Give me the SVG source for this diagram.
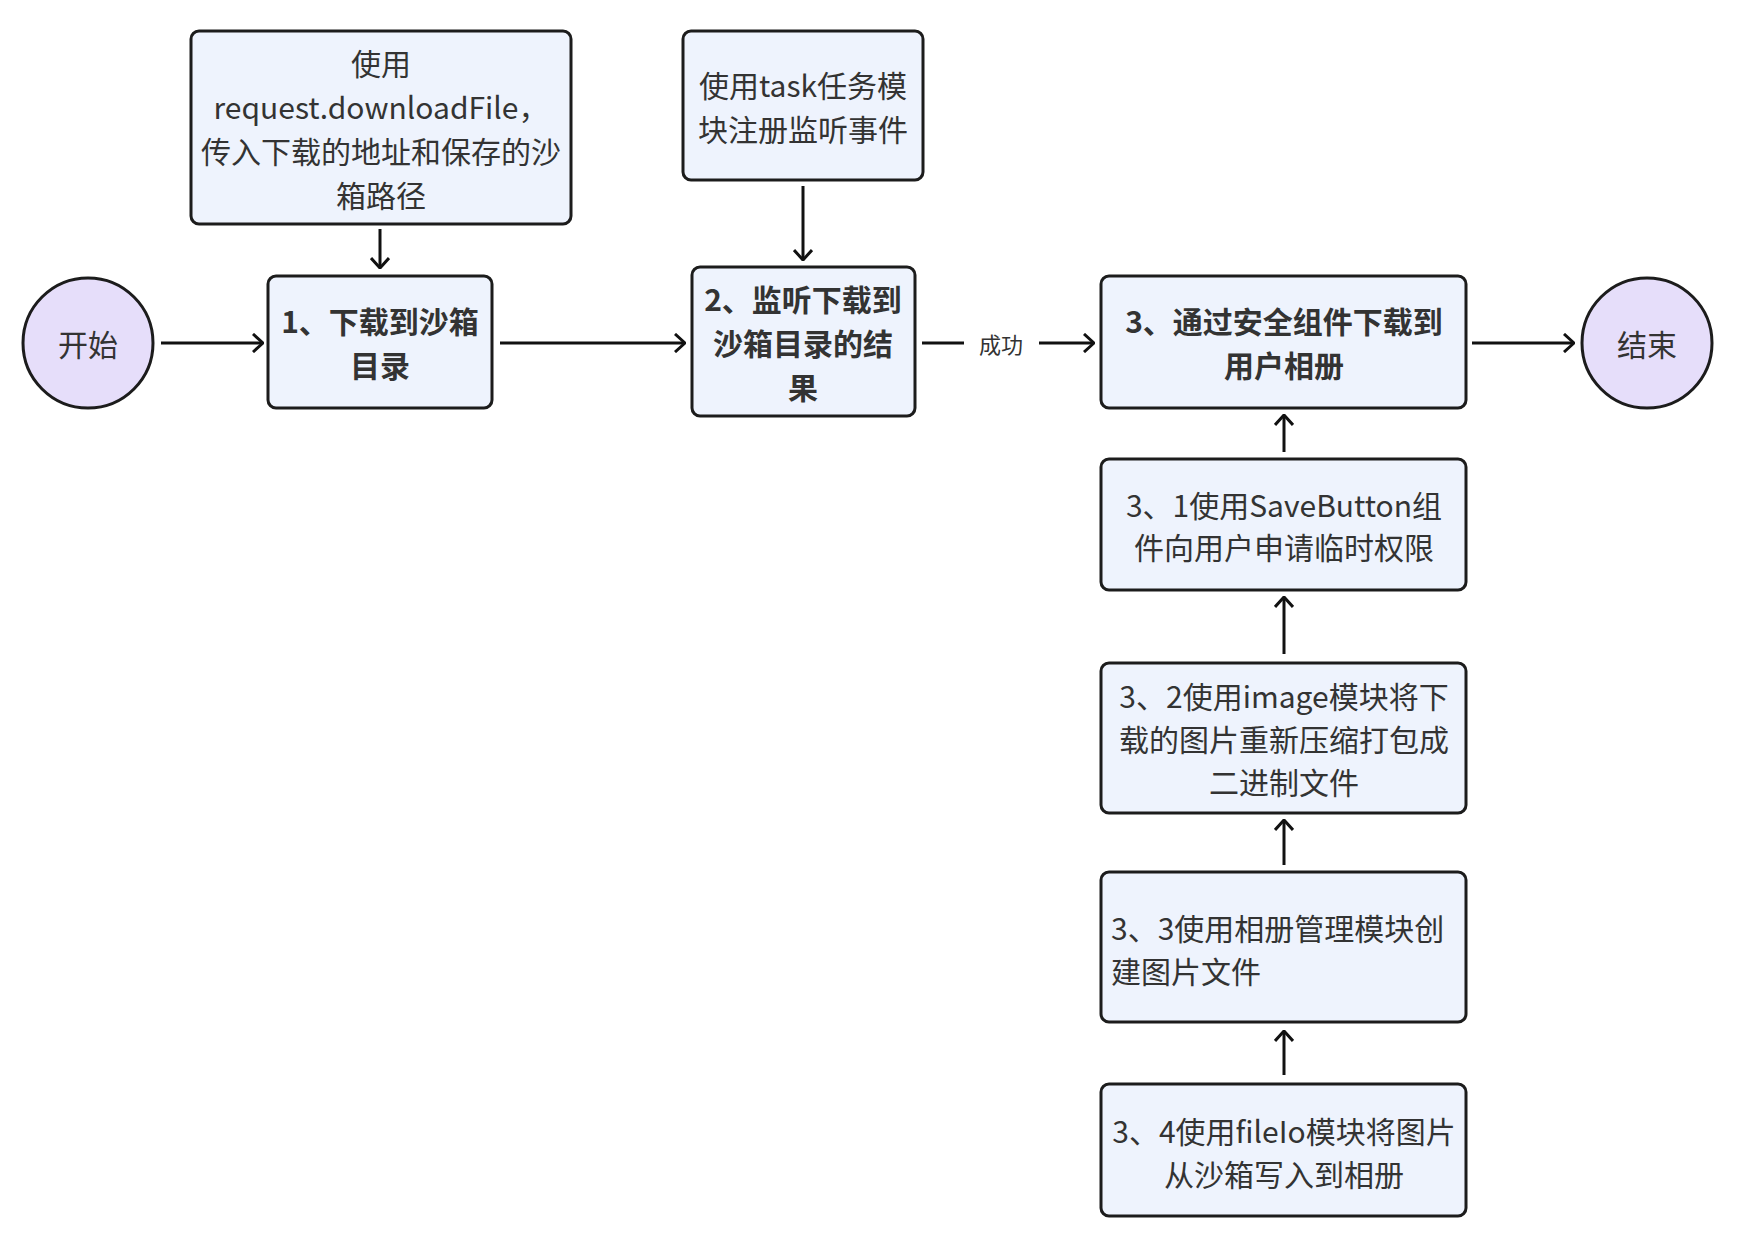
<svg xmlns="http://www.w3.org/2000/svg" width="1738" height="1238" viewBox="0 0 1738 1238">
<style>
.box{fill:#eef3fd;stroke:#1c1c1c;stroke-width:3}
.circ{fill:#e6defa;stroke:#1c1c1c;stroke-width:3}
text{font-family:"Noto Sans CJK SC","Noto Sans",sans-serif;font-size:30px;fill:#333;text-anchor:middle;dominant-baseline:central}
.b{font-weight:bold}
.l{text-anchor:start}
.lbl{font-size:22px}
.edge{stroke:#111;stroke-width:3;fill:none;marker-end:url(#arr)}
</style>
<defs>
<marker id="arr" viewBox="0 0 12 20" refX="11" refY="10" markerWidth="12" markerHeight="20" markerUnits="userSpaceOnUse" orient="auto">
<path d="M1,1 L11,10 L1,19" fill="none" stroke="#111" stroke-width="3"/>
</marker>
</defs>
<rect width="1738" height="1238" fill="#fff"/>
<g id="edges">
<line class="edge" x1="161" y1="343" x2="263" y2="343"/>
<line class="edge" x1="500" y1="343" x2="685" y2="343"/>
<line class="edge" x1="922" y1="343" x2="964" y2="343" style="marker-end:none"/>
<text class="lbl" x="1001" y="343">成功</text>
<line class="edge" x1="1039" y1="343" x2="1094" y2="343"/>
<line class="edge" x1="1472" y1="343" x2="1574" y2="343"/>
<line class="edge" x1="380" y1="229" x2="380" y2="268"/>
<line class="edge" x1="803" y1="186" x2="803" y2="260"/>
<line class="edge" x1="1284" y1="452" x2="1284" y2="415"/>
<line class="edge" x1="1284" y1="654" x2="1284" y2="597"/>
<line class="edge" x1="1284" y1="865" x2="1284" y2="820"/>
<line class="edge" x1="1284" y1="1075" x2="1284" y2="1031"/>
</g>
<g id="start">
<circle class="circ" cx="88" cy="343" r="65"/>
<text x="88" y="343">开始</text>
</g>
<g id="nodeA">
<rect class="box" x="191" y="31" width="380" height="193" rx="8"/>
<text x="381" y="62">使用</text>
<text x="381" y="106">request.downloadFile，</text>
<text x="381" y="150">传入下载的地址和保存的沙</text>
<text x="381" y="194">箱路径</text>
</g>
<g id="node1">
<rect class="box" x="268" y="276" width="224" height="132" rx="8"/>
<text class="b" x="380" y="320">1、下载到沙箱</text>
<text class="b" x="380" y="364">目录</text>
</g>
<g id="nodeB">
<rect class="box" x="683" y="31" width="240" height="149" rx="8"/>
<text x="803" y="84">使用task任务模</text>
<text x="803" y="128">块注册监听事件</text>
</g>
<g id="node2">
<rect class="box" x="692" y="267" width="223" height="149" rx="8"/>
<text class="b" x="803" y="298">2、监听下载到</text>
<text class="b" x="803" y="342">沙箱目录的结</text>
<text class="b" x="803" y="386">果</text>
</g>
<g id="node3">
<rect class="box" x="1101" y="276" width="365" height="132" rx="8"/>
<text class="b" x="1284" y="320">3、通过安全组件下载到</text>
<text class="b" x="1284" y="364">用户相册</text>
</g>
<g id="end">
<circle class="circ" cx="1647" cy="343" r="65"/>
<text x="1647" y="343">结束</text>
</g>
<g id="node31">
<rect class="box" x="1101" y="459" width="365" height="131" rx="8"/>
<text x="1284" y="504">3、1使用SaveButton组</text>
<text x="1284" y="546">件向用户申请临时权限</text>
</g>
<g id="node32">
<rect class="box" x="1101" y="663" width="365" height="150" rx="8"/>
<text x="1284" y="695">3、2使用image模块将下</text>
<text x="1284" y="738">载的图片重新压缩打包成</text>
<text x="1284" y="781">二进制文件</text>
</g>
<g id="node33">
<rect class="box" x="1101" y="872" width="365" height="150" rx="8"/>
<text class="l" x="1111" y="927">3、3使用相册管理模块创</text>
<text class="l" x="1111" y="970">建图片文件</text>
</g>
<g id="node34">
<rect class="box" x="1101" y="1084" width="365" height="132" rx="8"/>
<text x="1284" y="1130">3、4使用fileIo模块将图片</text>
<text x="1284" y="1173">从沙箱写入到相册</text>
</g>
</svg>
